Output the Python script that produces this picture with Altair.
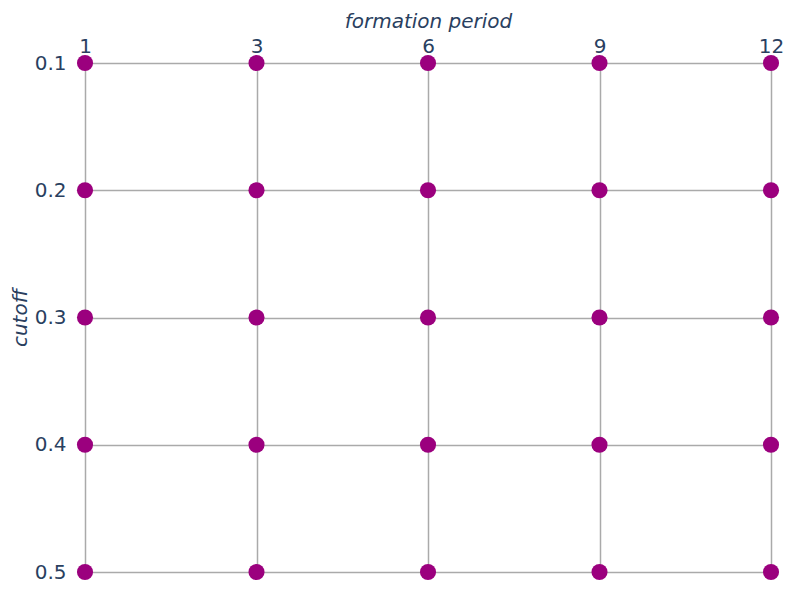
import altair as alt
import pandas as pd

periods = [1, 3, 6, 9, 12]
cutoffs = [0.1, 0.2, 0.3, 0.4, 0.5]

rows = [{"formation period": p, "cutoff": c} for c in cutoffs for p in periods]
df = pd.DataFrame(rows)

txt = "#2a3f5f"
chart = alt.Chart(df).mark_circle(size=260, opacity=1, color="#9b007e").encode(
    x=alt.X("formation period:O", sort=periods,
            scale=alt.Scale(type="point", padding=0),
            axis=alt.Axis(orient="top", labelAngle=0, title="formation period",
                          titleFontStyle="italic", titleFontWeight="normal",
                          titleFontSize=20, titleColor=txt, labelFontSize=20,
                          labelColor=txt, labelPadding=7, titlePadding=5,
                          ticks=False, domain=False, grid=True,
                          gridColor="#aaaaaa", gridWidth=1.5)),
    y=alt.Y("cutoff:O", sort=cutoffs,
            scale=alt.Scale(type="point", padding=0),
            axis=alt.Axis(title="cutoff", titleFontStyle="italic", titleFontWeight="normal",
                          titleFontSize=20, titleColor=txt, labelFontSize=20,
                          labelColor=txt, labelPadding=19, titlePadding=4,
                          ticks=False, domain=False, grid=True,
                          gridColor="#aaaaaa", gridWidth=1.5,
                          labelBaseline="middle")),
).properties(
    width=686, height=509,
    autosize=alt.AutoSizeParams(type="none"),
    padding={"left": 77, "top": 55, "right": 20, "bottom": 20},
).configure(font="DejaVu Sans").configure_view(stroke=None)

chart.save("out.html", embed_options={"renderer": "svg", "actions": False})
